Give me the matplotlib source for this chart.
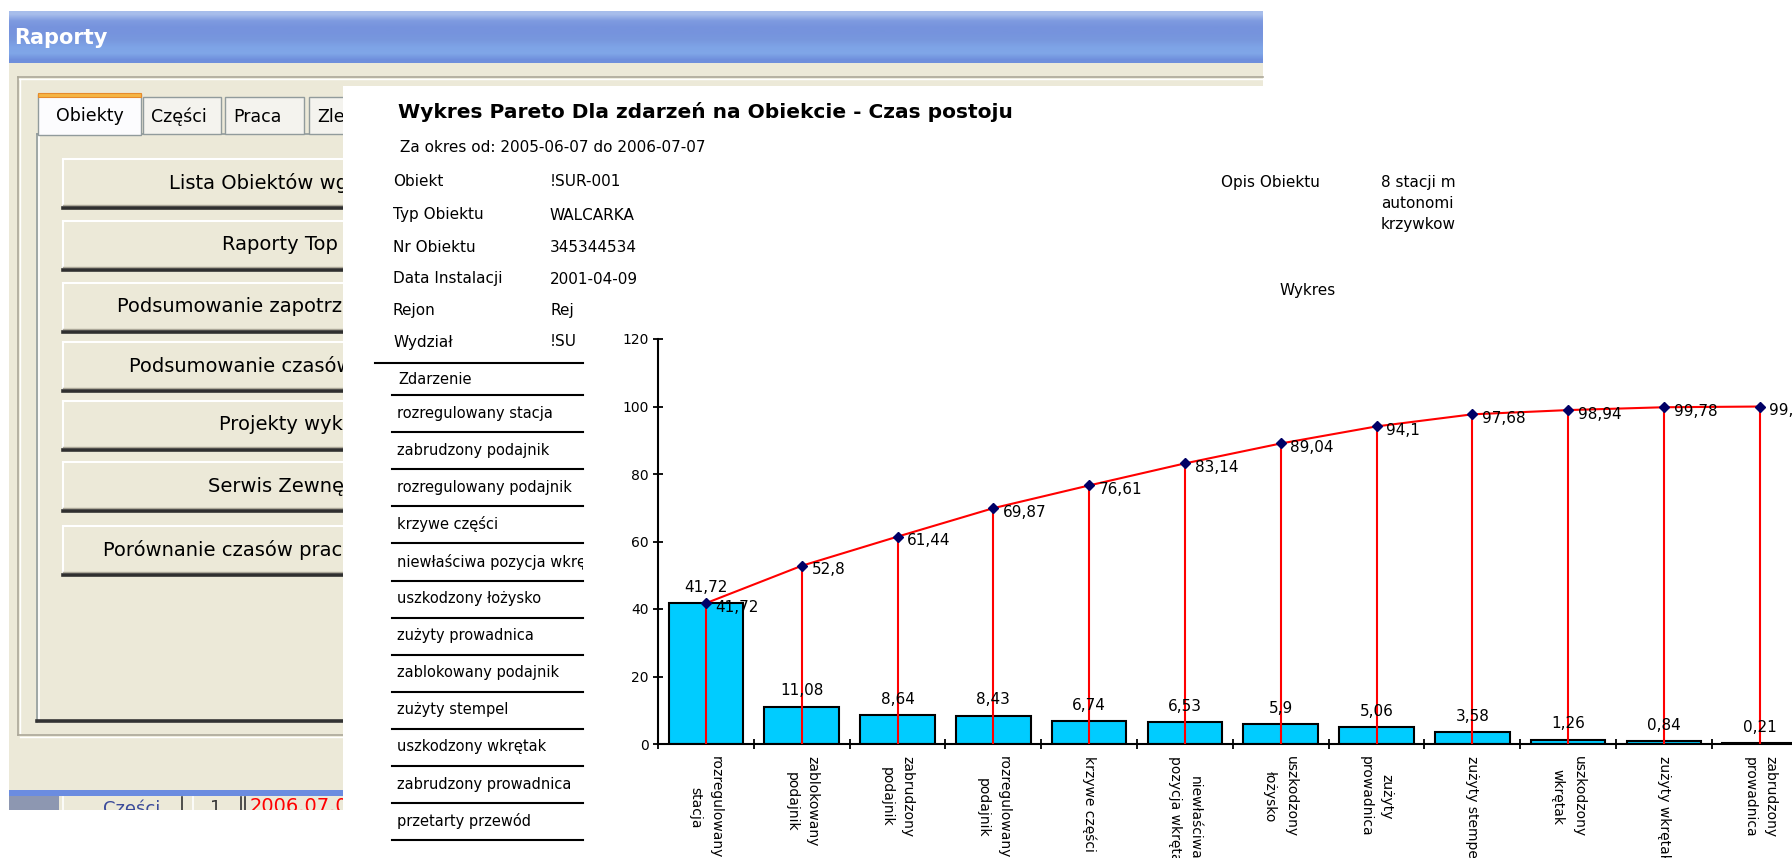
import numpy as np
import matplotlib
matplotlib.use("Agg")
import matplotlib.pyplot as plt
from matplotlib.patches import Rectangle
from matplotlib.colors import to_rgb

plt.rcParams['font.family'] = ['DejaVu Sans']

# --- data ---
categories = ["rozregulowany\nstacja", "zablokowany\npodajnik", "zabrudzony\npodajnik",
              "rozregulowany\npodajnik", "krzywe części", "niewłaściwa\npozycja wkrętaka",
              "uszkodzony\nłożysko", "zużyty\nprowadnica", "zużyty stempel",
              "uszkodzony\nwkrętak", "zużyty wkrętak", "zabrudzony\nprowadnica"]
downtime = [41.72, 11.08, 8.64, 8.43, 6.74, 6.53, 5.9, 5.06, 3.58, 1.26, 0.84, 0.21]
cumulative = [41.72, 52.8, 61.44, 69.87, 76.61, 83.14, 89.04, 94.1, 97.68, 98.94, 99.78, 99.99]
y_ticks = [0, 20, 40, 60, 80, 100, 120]

info_labels = ["Obiekt", "Typ Obiektu", "Nr Obiektu", "Data Instalacji", "Rejon", "Wydział"]
info_values = ["!SUR-001", "WALCARKA", "345344534", "2001-04-09", "Rej", "!SU"]
opis_lines = ["8 stacji m", "autonomi", "krzywkow"]

table_rows = ["rozregulowany stacja", "zabrudzony podajnik", "rozregulowany podajnik",
              "krzywe części", "niewłaściwa pozycja wkrętaka", "uszkodzony łożysko",
              "zużyty prowadnica", "zablokowany podajnik", "zużyty stempel",
              "uszkodzony wkrętak", "zabrudzony prowadnica", "przetarty przewód"]

tabs = ["Obiekty", "Części", "Praca", "Zle"]
buttons = ["Lista Obiektów wg", "Raporty Top", "Podsumowanie zapotrz",
           "Podsumowanie czasów", "Projekty wyk", "Serwis Zewnę",
           "Porównanie czasów prac"]


def pl(v):
    return f"{v:g}".replace(".", ",")


W, H = 1792, 858
fig = plt.figure(figsize=(W / 100, H / 100), dpi=100)
fig.patch.set_facecolor("white")

# background axes in pixel coordinates
bg = fig.add_axes([0, 0, 1, 1])
bg.axis("off")

beige = "#ECE9D8"

# title bar with gradient
grad_cols = ["#a7bdeb", "#7f9be0", "#7693dd", "#7694dd", "#7898de", "#7ea3e6", "#80a7e8", "#6f8fdc"]
grad = np.array([[to_rgb(c)] for c in grad_cols])
bg.imshow(grad, extent=(9, 1263, 63, 11), aspect="auto", interpolation="bilinear", zorder=1)
bg.text(14, 38, "Raporty", color="white", fontsize=15, fontweight="bold", va="center", zorder=2)

# dialog body
bg.add_patch(Rectangle((9, 63), 1254, 728, facecolor=beige, edgecolor="none", zorder=1))
# outer group frame
bg.plot([18, 1263], [77, 77], color="#ACA899", lw=1.2, zorder=2)
bg.plot([18, 1263], [79, 79], color="white", lw=1, zorder=2)
bg.plot([18, 18], [77, 735], color="#ACA899", lw=1.2, zorder=2)
bg.plot([20, 20], [79, 733], color="white", lw=1, zorder=2)
bg.plot([18, 600], [735, 735], color="#ACA899", lw=1.2, zorder=2)
bg.plot([20, 600], [737, 737], color="white", lw=1, zorder=2)

# tab page
bg.plot([37, 600], [134, 134], color="#919B9C", lw=1.2, zorder=2)
bg.plot([37, 37], [134, 722], color="#919B9C", lw=1.2, zorder=2)
bg.plot([39, 39], [136, 720], color="white", lw=1.2, zorder=2)
bg.plot([37, 600], [721, 721], color="#333333", lw=2.6, zorder=2)

# tabs
tab_x = [38, 143, 225, 309]
tab_w = [103, 78, 79, 90]
for i, (name, tx, tw) in enumerate(zip(tabs, tab_x, tab_w)):
    if i == 0:
        bg.add_patch(Rectangle((tx, 94), tw, 41, facecolor="#FCFCFE", edgecolor="#919B9C", lw=1, zorder=3))
        bg.add_patch(Rectangle((tx, 93), tw, 4, facecolor="#F5B544", edgecolor="#E68B2C", lw=0.8, zorder=4))
        bg.text(tx + tw / 2, 116, name, fontsize=12.5, ha="center", va="center", zorder=4)
    else:
        bg.add_patch(Rectangle((tx, 97), tw, 37, facecolor="#F4F3EE", edgecolor="#919B9C", lw=1, zorder=3))
        bg.text(tx + 8, 117, name, fontsize=12.5, ha="left", va="center", zorder=4)

# buttons
btn_top = [159, 221, 283, 342, 401, 462, 526]
btn_text_x = [169, 222, 117, 129, 219, 208, 103]
for name, top, tx in zip(buttons, btn_top, btn_text_x):
    bg.add_patch(Rectangle((63, top), 500, 48, facecolor=beige, edgecolor="none", zorder=3))
    bg.plot([63, 563], [top, top], color="white", lw=1.5, zorder=4)
    bg.plot([63, 63], [top, top + 48], color="white", lw=1.5, zorder=4)
    bg.plot([63, 563], [top + 46, top + 46], color="#ACA899", lw=1, zorder=4)
    bg.plot([63, 563], [top + 49, top + 49], color="#2f2f2f", lw=2.6, zorder=4)
    bg.text(tx, top + 24, name, fontsize=14, ha="left", va="center", zorder=4)

# bottom strip of the dialog
bg.add_patch(Rectangle((9, 790), 1254, 6, facecolor="#6B8CE0", edgecolor="none", zorder=3))
bg.add_patch(Rectangle((9, 796), 50, 16, facecolor="#8D97B1", edgecolor="none", zorder=3))
bg.add_patch(Rectangle((59, 796), 1204, 16, facecolor=beige, edgecolor="none", zorder=3))
for sx, sc in [(63, "white"), (182, "#333333"), (193, "white"), (241, "#333333"), (245, "#333333")]:
    bg.plot([sx, sx], [797, 812], color=sc, lw=1.2, zorder=4)
bg.text(103, 799, "Części", color="#3A4A9A", fontsize=13, va="top", zorder=4)
bg.text(210, 799, "1", color="#333333", fontsize=13, va="top", zorder=4)
bg.text(250, 797, "2006.07.07", color="red", fontsize=14, va="top", zorder=4)
bg.add_patch(Rectangle((0, 810), 343, 48, facecolor="white", edgecolor="none", zorder=5))

# report sheet
bg.add_patch(Rectangle((343, 86), W - 343, H - 86, facecolor="white", edgecolor="none", zorder=10))
bg.text(398, 112, "Wykres Pareto Dla zdarzeń na Obiekcie - Czas postoju",
        fontsize=14.5, fontweight="bold", va="center", zorder=11)
bg.text(400, 147, "Za okres od: 2005-06-07 do 2006-07-07", fontsize=11, va="center", zorder=11)

info_y = [182, 215, 247, 279, 310, 342]
for lab, val, yy in zip(info_labels, info_values, info_y):
    bg.text(393, yy, lab, fontsize=11, va="center", zorder=11)
    bg.text(550, yy, val, fontsize=11, va="center", zorder=11)

bg.text(1221, 182, "Opis Obiektu", fontsize=11, va="center", zorder=11)
for k, line in enumerate(opis_lines):
    bg.text(1381, 182 + 21 * k, line, fontsize=11, va="center", zorder=11)
bg.text(1280, 290, "Wykres", fontsize=11, va="center", zorder=13)

# chart frame covers the right part of the info block
bg.add_patch(Rectangle((583, 285), W - 583, H - 285, facecolor="white", edgecolor="none", zorder=12))

# event table on the left
bg.plot([375, 583], [363, 363], color="black", lw=1.5, zorder=13)
bg.text(398, 380, "Zdarzenie", fontsize=10.5, va="center", zorder=13)
bg.plot([392, 583], [395, 395], color="black", lw=1.5, zorder=13)
for k, row in enumerate(table_rows):
    yl = 395 + 37.1 * (k + 1)
    bg.text(397, yl - 19, row, fontsize=10.5, va="center", zorder=11)
    bg.plot([392, 583], [yl, yl], color="black", lw=1.5, zorder=13)

bg.set_xlim(0, W)
bg.set_ylim(H, 0)

# --- Pareto chart ---
x0, x1 = 658, W
y0, y1 = 744, 339
cat_px = 95.8
ax = fig.add_axes([x0 / W, (H - y0) / H, (x1 - x0) / W, (y0 - y1) / H])
ax.patch.set_alpha(0)
x = np.arange(len(categories))
ax.bar(x, downtime, width=0.78, color="#00CCFF", edgecolor="black", linewidth=1.5, zorder=2)
ax.vlines(x, 0, cumulative, color="red", lw=1.5, zorder=3)
ax.plot(x, cumulative, color="red", lw=1.5, marker="D", ms=5, mfc="#000066", mec="#000066", zorder=4)

for xi, v in zip(x, downtime):
    ax.annotate(pl(v), (xi, v), xytext=(0, 6), textcoords="offset points",
                ha="center", va="bottom", fontsize=11, zorder=5)
for xi, c in zip(x, cumulative):
    ax.annotate(pl(c), (xi, c), xytext=(7, -3), textcoords="offset points",
                ha="left", va="center", fontsize=11, zorder=5, annotation_clip=False)

ax.set_yticks(y_ticks)
ax.set_xticks(x)
ax.set_xticklabels(categories, rotation=-90, fontsize=10, linespacing=1.6,
                   ha="center", va="top", multialignment="center")
ax.set_xticks(np.arange(-0.5, 11, 1), minor=True)
ax.set_xlim(-0.5, (x1 - x0) / cat_px - 0.5)
ax.set_ylim(0, 120)
ax.tick_params(axis="x", which="major", length=0, pad=9)
ax.tick_params(axis="x", which="minor", direction="inout", length=7.5, width=1.3)
ax.tick_params(axis="y", direction="inout", length=7.5, width=1.3, labelsize=10, pad=3)
for s in ["top", "right"]:
    ax.spines[s].set_visible(False)
for s in ["left", "bottom"]:
    ax.spines[s].set_linewidth(1.5)

fig.savefig("out.png", dpi=100)
